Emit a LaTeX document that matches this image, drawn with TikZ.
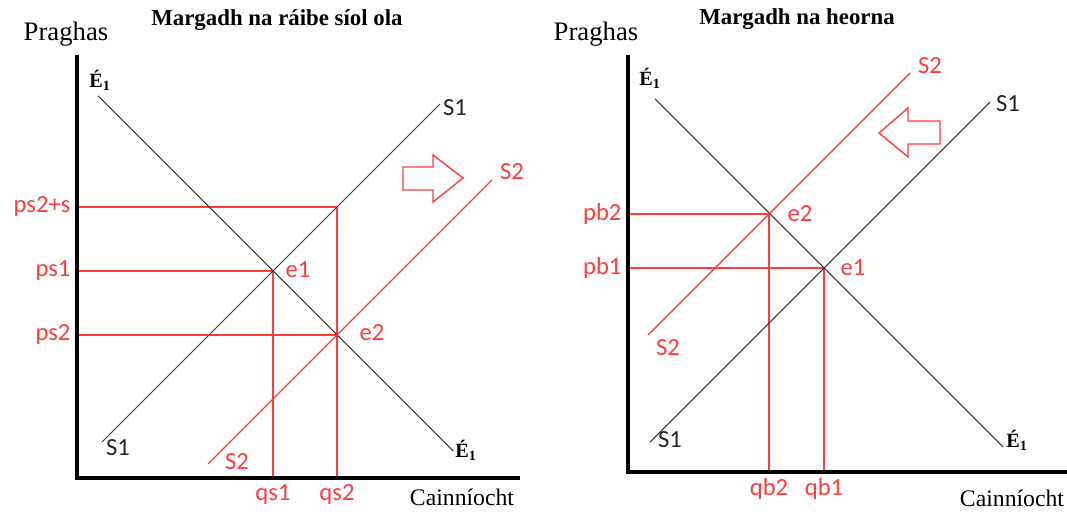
\documentclass[tikz,border=0pt]{standalone}
\usepackage{fontspec}
\setmainfont{Liberation Serif}
\newfontfamily\calib{Carlito}
\usepackage{xcolor}
\usetikzlibrary{positioning,calc}

\definecolor{mktred}{HTML}{FF3B3B}
\tikzset{
  axis/.style={line width=2.8pt},
  curve/.style={line width=0.6pt, draw=black!80},
  redline/.style={line width=0.8pt, draw=mktred},
  redlbl/.style={text=mktred, font=\calib\fontsize{14}{16}\selectfont},
  crvlbl/.style={text=black!85, font=\calib\fontsize{14}{16}\selectfont},
  dlbl/.style={font=\fontsize{11.5}{13}\selectfont\bfseries},
  axlbl/.style={font=\fontsize{13.5}{16}\selectfont},
  ylbl/.style={font=\fontsize{15.2}{17}\selectfont},
  ttl/.style={font=\fontsize{13}{15}\selectfont\bfseries},
  shiftarrow/.style={draw=mktred, line width=0.8pt}
}

\begin{document}
\begin{tikzpicture}
  \useasboundingbox (0,0) rectangle (21.34,10.22);

  %%%%% Left: Margadh na raibe siol ola %%%%%
  \coordinate (oA) at (1.54,0.66);
  \coordinate (yA) at (1.54,9.12);
  \coordinate (xA) at (10.40,0.66);
  \coordinate (eA1) at (5.46,4.80);
  \coordinate (eA2) at (6.74,3.52);
  \coordinate (sA) at ($(eA1)+(1.28,1.28)$);

  % Price / quantity guides
  \draw[redline] (oA |- sA) node[redlbl, left] (pA3) {ps2+s} -- (sA) -- (sA |- oA) node[redlbl, below] (qA2) {qs2};
  \draw[redline] (oA |- eA1) node[redlbl, left] (pA1) {ps1} -- (eA1) -- (eA1 |- oA) node[redlbl, below] (qA1) {qs1};
  \draw[redline] (oA |- eA2) node[redlbl, left] (pA2) {ps2} -- (eA2);

  % Demand and supply
  \draw[curve] ($(eA1)+(-3.5,3.5)$) -- ($(eA1)+(3.6,-3.6)$);
  \draw[curve] ($(eA1)+(-3.42,-3.42)$) -- ($(eA1)+(3.34,3.34)$);
  \draw[redline] ($(eA2)+(-2.58,-2.58)$) -- ($(eA2)+(3.1,3.1)$);

  \node[dlbl] (dA0) at (2.00,8.62) {É\textsubscript{1}};
  \node[dlbl] (dA1) at (9.32,1.22) {É\textsubscript{1}};
  \node[crvlbl] (sA0) at (2.36,1.26) {S1};
  \node[crvlbl] (sA1) at (9.10,8.06) {S1};
  \node[redlbl] (tA0) at (4.74,0.98) {S2};
  \node[redlbl] (tA1) at (10.24,6.78) {S2};
  \node[redlbl] (lA1) at (5.96,4.82) {e1};
  \node[redlbl] (lA2) at (7.44,3.56) {e2};

  % Shift right
  \draw[shiftarrow] (8.06,6.88) -- (8.66,6.88) -- (8.66,7.12) -- (9.26,6.66)
    -- (8.66,6.18) -- (8.66,6.42) -- (8.06,6.42) -- cycle;

  % Axes
  \draw[axis] (yA) -- (oA) -- (xA);
  \node[ylbl] (pxA) at (1.32,9.54) {Praghas};
  \node[axlbl] (qxA) at (9.24,0.28) {Cainníocht};
  \node[ttl] (hA) at (5.54,9.82) {Margadh na ráibe síol ola};

  %%%%% Right: Margadh na heorna %%%%%
  \coordinate (oB) at (12.56,0.78);
  \coordinate (yB) at (12.56,9.12);
  \coordinate (xB) at (21.34,0.78);
  \coordinate (eB1) at (16.48,4.86);
  \coordinate (eB2) at (15.38,5.94);

  % Price / quantity guides
  \draw[redline] (oB |- eB2) node[redlbl, left] (pB2) {pb2} -- (eB2) -- (eB2 |- oB) node[redlbl, below] (qB2) {qb2};
  \draw[redline] (oB |- eB1) node[redlbl, left] (pB1) {pb1} -- (eB1) -- (eB1 |- oB) node[redlbl, below] (qB1) {qb1};

  % Demand and supply
  \draw[curve] ($(eB1)+(-3.38,3.38)$) -- ($(eB1)+(3.58,-3.58)$);
  \draw[curve] ($(eB1)+(-3.48,-3.48)$) -- ($(eB1)+(3.32,3.32)$);
  \draw[redline] ($(eB2)+(-2.42,-2.42)$) -- ($(eB2)+(2.82,2.82)$);

  \node[dlbl] (dB0) at (13.00,8.66) {É\textsubscript{1}};
  \node[dlbl] (dB1) at (20.34,1.42) {É\textsubscript{1}};
  \node[crvlbl] (sB0) at (13.40,1.42) {S1};
  \node[crvlbl] (sB1) at (20.16,8.14) {S1};
  \node[redlbl] (tB0) at (13.36,3.26) {S2};
  \node[redlbl] (tB1) at (18.60,8.90) {S2};
  \node[redlbl] (lB1) at (17.06,4.86) {e1};
  \node[redlbl] (lB2) at (16.00,5.94) {e2};

  % Shift left
  \draw[shiftarrow] (18.80,7.80) -- (18.16,7.80) -- (18.16,8.06) -- (17.58,7.56)
    -- (18.16,7.08) -- (18.16,7.34) -- (18.80,7.34) -- cycle;

  % Axes
  \draw[axis] (yB) -- (oB) -- (xB);
  \node[ylbl] (pxB) at (11.92,9.54) {Praghas};
  \node[axlbl] (qxB) at (20.24,0.26) {Cainníocht};
  \node[ttl] (hB) at (15.94,9.84) {Margadh na heorna};
\end{tikzpicture}
\end{document}
